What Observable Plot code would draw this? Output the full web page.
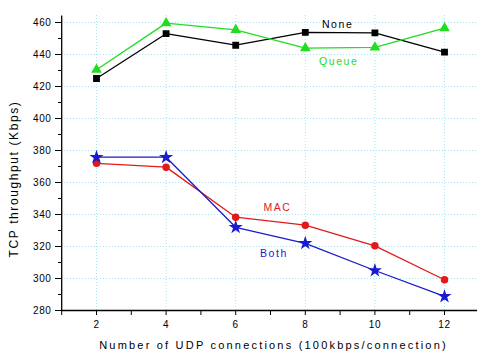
<!DOCTYPE html>
<html>
<head>
<meta charset="utf-8">
<script src="https://cdn.jsdelivr.net/npm/d3@7"></script>
<script src="https://cdn.jsdelivr.net/npm/@observablehq/plot@0.6"></script>
<style>
  html, body { margin: 0; padding: 0; background: #fff; }
  svg { display: block; }
</style>
</head>
<body>
<div id="chart"></div>
<script>
const connections = [2, 4, 6, 8, 10, 12];
const noneVals  = [425, 453, 445.8, 453.8, 453.5, 441.5];
const queueVals = [430.5, 459.6, 455.4, 444, 444.5, 456.5];
const macVals   = [372, 369.6, 338.3, 333.3, 320.4, 299.2];
const bothVals  = [375.8, 375.8, 332, 322, 305, 288.8];

const seriesNames   = ["None", "Queue", "MAC", "Both"];
const seriesColors  = ["#000000", "#22dd22", "#e31a1a", "#1a1ad0"];
const seriesSymbols = ["square", "triangle", "circle", "star"];
const seriesValues  = [noneVals, queueVals, macVals, bothVals];

const labelX = [8.93, 8.96, 7.2, 7.1];
const labelY = [458.8, 435.6, 344.4, 315.6];

const xTicks = [2, 4, 6, 8, 10, 12];
const xMinor = [1, 3, 5, 7, 9, 11, 13];
const yTicks = [280, 300, 320, 340, 360, 380, 400, 420, 440, 460];
const yMinor = [290, 310, 330, 350, 370, 390, 410, 430, 450];

const xTitle = "Number of UDP connections (100kbps/connection)";
const yTitle = "TCP throughput (Kbps)";

const data = [];
seriesNames.forEach((s, i) => {
  connections.forEach((c, j) => data.push({series: s, x: c, y: seriesValues[i][j]}));
});
const labels = seriesNames.map((s, i) => ({series: s, x: labelX[i], y: labelY[i]}));

const chart = Plot.plot({
  width: 477,
  height: 361,
  marginLeft: 61,
  marginRight: 0,
  marginTop: 15,
  marginBottom: 51,
  style: {fontFamily: "Liberation Sans, Arial, sans-serif", fontSize: "10px", color: "#000", background: "#fff"},
  x: {domain: [1, 13], range: [61.2, 478.8]},
  y: {domain: [280, 464], range: [310, 15.6]},
  color: {domain: seriesNames, range: seriesColors},
  symbol: {domain: seriesNames, range: seriesSymbols},
  marks: [
    Plot.ruleX(xTicks, {stroke: "#9fe6f0", strokeDasharray: "1,2", strokeWidth: 1}),
    Plot.ruleY(yTicks.filter(d => d > 280), {stroke: "#9fe6f0", strokeDasharray: "1,2", strokeWidth: 1}),
    Plot.axisX(xTicks, {tickSize: 5, tickPadding: 5, fontSize: 10, label: null}),
    Plot.axisX(xMinor, {tickSize: 5, tickFormat: () => "", label: null}),
    Plot.axisY(yTicks, {tickSize: 6, tickPadding: 4, fontSize: 10, label: null}),
    Plot.axisY(yMinor, {tickSize: 3, tickFormat: () => "", label: null}),
    Plot.ruleY([280], {stroke: "#000", strokeWidth: 1.3}),
    Plot.ruleX([1], {y1: 280, y2: 464, stroke: "#000", strokeWidth: 1.3}),
    Plot.line(data, {x: "x", y: "y", z: "series", stroke: "series", strokeWidth: 1.3}),
    Plot.dot(data, {x: "x", y: "y", symbol: "series", fill: "series", stroke: "series", r: 3}),
    Plot.text(labels, {x: "x", y: "y", text: "series", fill: "series", fontSize: 10.5}),
    Plot.text([xTitle], {frameAnchor: "bottom", dy: 38, dx: 4, fontSize: 11, fill: "#000"}),
    Plot.text([yTitle], {frameAnchor: "left", textAnchor: "middle", dx: -47, dy: 16, rotate: -90, fontSize: 12, fill: "#000"})
  ]
});

// letter spacing to mimic the widely spaced original lettering
d3.select(chart).selectAll("text").each(function() {
  const t = this.textContent;
  const el = d3.select(this);
  if (t === xTitle) el.attr("letter-spacing", "2.2px");
  else if (t === yTitle) el.attr("letter-spacing", "1.6px");
  else if (seriesNames.includes(t)) el.attr("letter-spacing", "1.6px");
  else el.attr("letter-spacing", "0.6px");
});

document.getElementById("chart").appendChild(chart);
</script>
</body>
</html>
